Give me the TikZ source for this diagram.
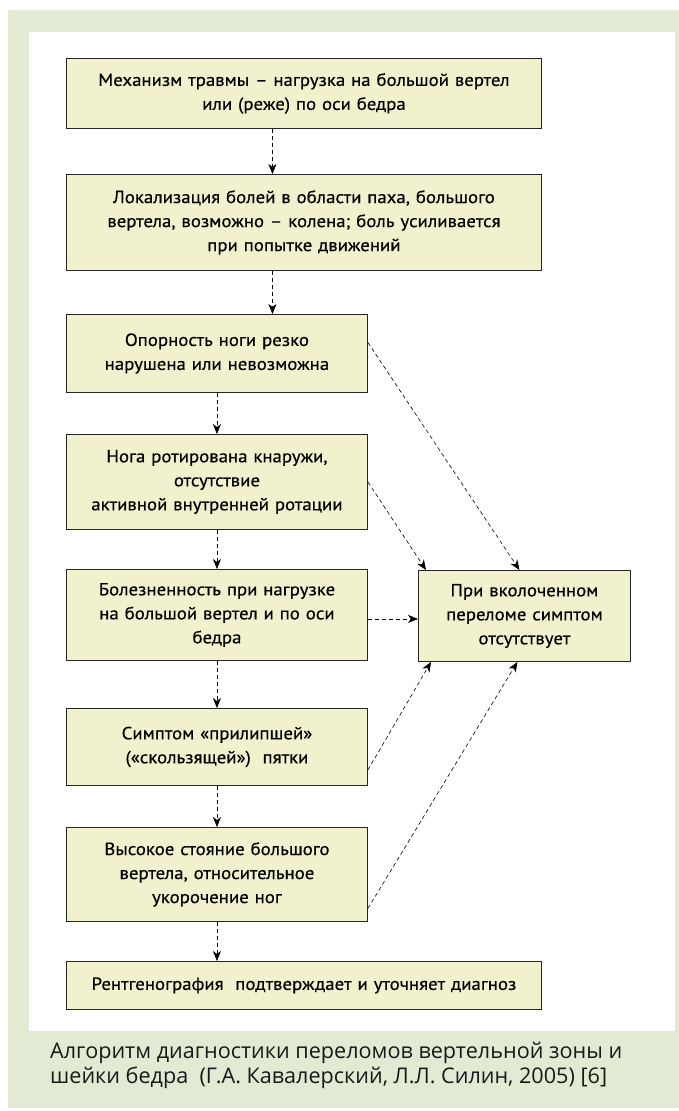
\documentclass[tikz,border=0pt]{standalone}
\usepackage{fontspec}
\setmainfont{PT Sans}
\newfontfamily\boxfont[FakeBold=0.4,FakeStretch=1.07]{PT Sans}
\newfontfamily\capfont{Open Sans}
\usetikzlibrary{arrows.meta}
\definecolor{panelgreen}{RGB}{226,234,212}
\definecolor{boxfill}{RGB}{241,241,206}

\begin{document}
\begin{tikzpicture}[x=1pt,y=-1pt,
    blok/.style={draw=black!85,fill=boxfill,line width=0.9pt,anchor=north west,inner sep=0pt,align=center,font=\fontsize{17.6}{24}\selectfont\boxfont},
    pijl/.style={-{Stealth[length=10pt,width=8pt,inset=3pt]},dash pattern=on 4pt off 3pt,line width=0.6pt}]
    \useasboundingbox (0,0) rectangle (679,1111);
    % panels
    \fill[panelgreen] (8,10) rectangle (679,1108);
    \fill[white] (29,32) rectangle (675,1031);
    % boxes
    \node[blok,text width=475pt,minimum height=70pt] (mech) at (66,58) {Механизм травмы – нагрузка на большой вертел\\или (реже) по оси бедра};
    \node[blok,text width=475pt,minimum height=96pt] (lok) at (66,174) {Локализация болей в области паха, большого\\вертела, возможно – колена; боль усиливается\\при попытке движений};
    \node[blok,text width=301pt,minimum height=78pt] (opor) at (66,314) {Опорность ноги резко\\нарушена или невозможна};
    \node[blok,text width=301pt,minimum height=95pt] (rot) at (66,434) {Нога ротирована кнаружи,\\отсутствие\\активной внутренней ротации};
    \node[blok,text width=301pt,minimum height=91pt] (bol) at (66,569) {Болезненность при нагрузке\\на большой вертел и по оси\\бедра};
    \node[blok,text width=212pt,minimum height=91pt] (vkol) at (418,570) {При вколоченном\\переломе симптом\\отсутствует};
    \node[blok,text width=301pt,minimum height=77pt] (pyat) at (66,708) {Симптом «прилипшей»\\(«скользящей»)~~пятки};
    \node[blok,text width=301pt,minimum height=94pt] (vys) at (66,827) {Высокое стояние большого\\вертела, относительное\\укорочение ног};
    \node[blok,text width=475pt,minimum height=48pt] (rentg) at (66,961) {Рентгенография~~подтверждает и уточняет диагноз};
    % main chain
    \draw[pijl] ([xshift=-31.5pt]mech.south) -- ([xshift=-31.5pt]lok.north);
    \draw[pijl] ([xshift=-31.5pt]lok.south) -- ([xshift=-31.5pt]lok.south |- opor.north);
    \foreach \a/\b in {opor/rot,rot/bol,bol/pyat,pyat/vys,vys/rentg}
        \draw[pijl] (\a.south) -- (\a.south |- \b.north);
    % side branch
    \draw[pijl] ([yshift=11pt]opor.east) -- ([xshift=-5pt]vkol.north);
    \draw[pijl] (rot.east) -- ([xshift=8pt]vkol.north west);
    \draw[pijl] ([yshift=-4pt]bol.east) -- ([yshift=-4pt]bol.east -| vkol.west);
    \draw[pijl] ([yshift=-23pt]pyat.east) -- ([xshift=13pt]vkol.south west);
    \draw[pijl] ([yshift=-34pt]vys.east) -- ([xshift=-7pt]vkol.south);
    % caption
    \node[anchor=north west,align=left,inner sep=0pt,text=black!90,font=\fontsize{21.6}{25}\selectfont\capfont] (cap) at (50,1042)
        {Алгоритм диагностики переломов вертельной зоны и\\шейки бедра~~(Г.А. Кавалерский, Л.Л. Силин, 2005) [6]};
\end{tikzpicture}
\end{document}
